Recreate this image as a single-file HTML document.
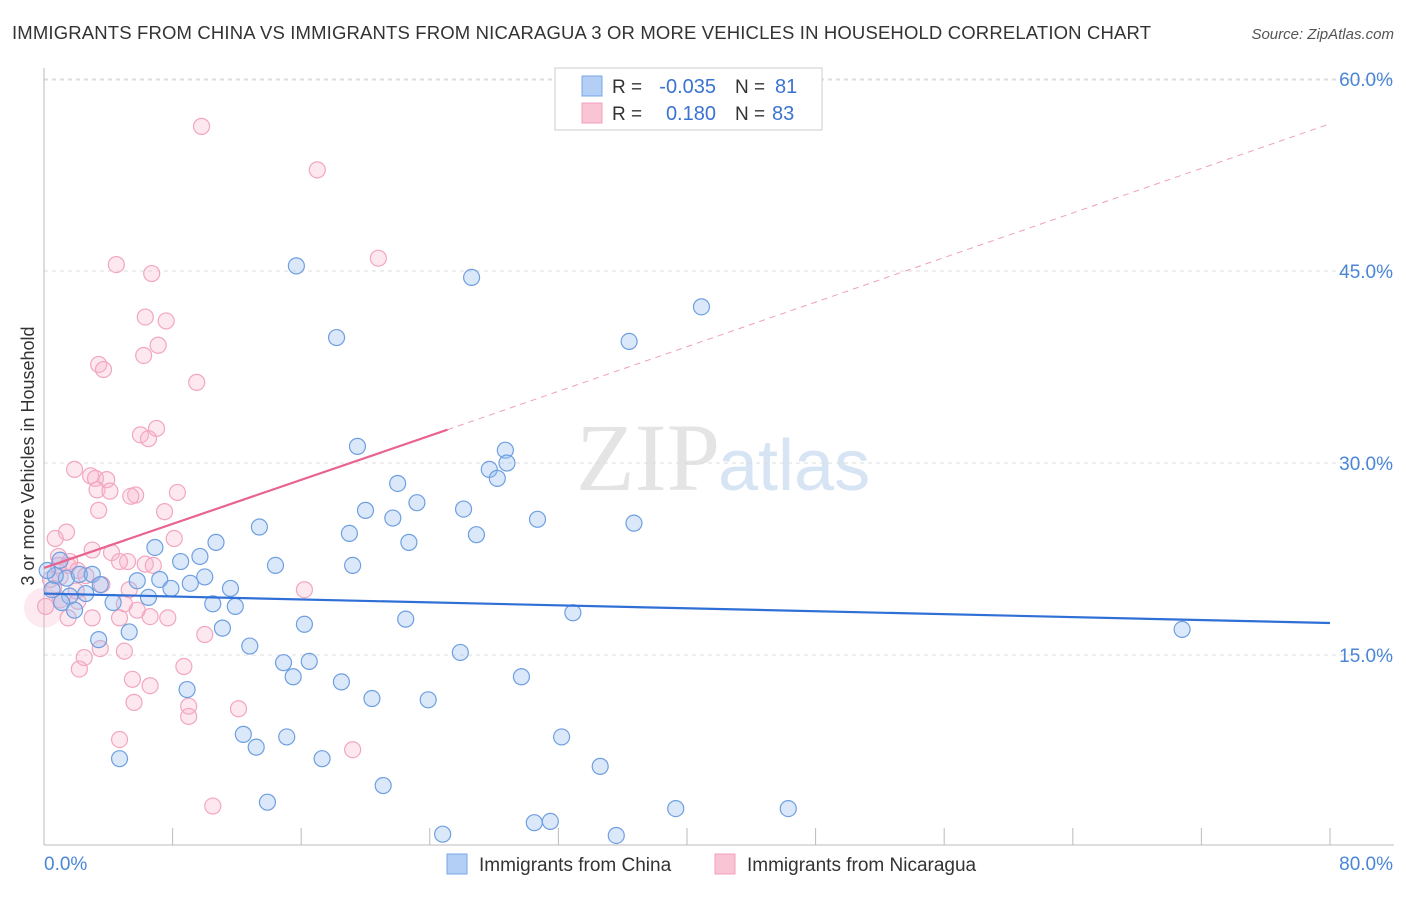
<!DOCTYPE html>
<html><head><meta charset="utf-8"><style>
body{margin:0;background:#fff;font-family:"Liberation Sans",sans-serif;}
</style></head><body>
<svg width="1406" height="892" xmlns="http://www.w3.org/2000/svg" font-family="Liberation Sans, sans-serif">
<text x="12" y="39" font-size="18.5" fill="#333" textLength="1139">IMMIGRANTS FROM CHINA VS IMMIGRANTS FROM NICARAGUA 3 OR MORE VEHICLES IN HOUSEHOLD CORRELATION CHART</text>
<text x="1394" y="39" font-size="15" fill="#555" font-style="italic" text-anchor="end">Source: ZipAtlas.com</text>
<text x="720" y="490" font-size="96" fill="#e4e4e4" font-family="Liberation Serif, serif" text-anchor="end">ZIP</text>
<text x="718" y="490" font-size="72" fill="#d6e4f4">atlas</text>
<g id="grid"></g>
<g id="axes"></g>
<g id="marks"></g>
<text transform="translate(34,456) rotate(-90)" font-size="18" fill="#333" text-anchor="middle">3 or more Vehicles in Household</text>
<g>
<rect x="555" y="68" width="267" height="62" fill="#fff" stroke="#ccc"/>
<rect x="582" y="76" width="20" height="20" fill="#b4cff5" stroke="#7aa6e6"/>
<rect x="582" y="103" width="20" height="20" fill="#f9c4d4" stroke="#f0a0bc"/>
<text x="612" y="93" font-size="19" fill="#333">R =</text>
<text x="716" y="93" font-size="20" fill="#3b73d1" text-anchor="end">-0.035</text>
<text x="735" y="93" font-size="19" fill="#333">N =</text>
<text x="775" y="93" font-size="20" fill="#3b73d1">81</text>
<text x="612" y="120" font-size="19" fill="#333">R =</text>
<text x="716" y="120" font-size="20" fill="#3b73d1" text-anchor="end">0.180</text>
<text x="735" y="120" font-size="19" fill="#333">N =</text>
<text x="772" y="120" font-size="20" fill="#3b73d1">83</text>
</g>
<g>
<rect x="447" y="854" width="20" height="20" fill="#b4cff5" stroke="#7aa6e6"/>
<text x="479" y="871" font-size="19" fill="#333">Immigrants from China</text>
<rect x="715" y="854" width="20" height="20" fill="#f9c4d4" stroke="#f0a0bc"/>
<text x="747" y="871" font-size="19" fill="#333">Immigrants from Nicaragua</text>
</g>
</svg>
<script>
const yTicks=[15,30,45,60];
const yTickLabels=["15.0%","30.0%","45.0%","60.0%"];
const xTicks=[0,8,16,24,32,40,48,56,64,72,80];
const chinaX=[15.7,26.6,40.9,18.2,36.4,19.5,28.7,27.7,28.8,28.2,22.0,23.2,20.0,21.7,26.1,30.7,36.7,13.4,19.0,26.9,22.7,6.9,10.7,9.7,8.5,14.4,19.2,7.2,10.0,5.8,9.1,11.6,7.9,6.5,4.3,10.5,11.9,22.5,16.2,32.9,70.8,11.1,5.3,3.4,12.8,25.9,14.9,16.5,15.5,29.7,18.5,8.9,20.4,23.9,12.4,15.1,13.2,32.2,17.3,4.7,34.6,21.1,13.9,39.3,46.3,30.5,31.5,24.8,35.6,1.4,0.7,2.2,3.0,1.6,1.1,1.9,0.5,2.6,3.5,0.2,1.0];
const chinaY=[45.4,44.5,42.2,39.8,39.5,31.3,31.0,29.5,30.0,28.8,28.4,26.9,26.3,25.7,26.4,25.6,25.3,25.0,24.5,24.4,23.8,23.4,23.8,22.7,22.3,22.0,22.0,20.9,21.1,20.8,20.6,20.2,20.2,19.5,19.1,19.0,18.8,17.8,17.4,18.3,17.0,17.1,16.8,16.2,15.7,15.2,14.4,14.5,13.3,13.3,12.9,12.3,11.6,11.5,8.8,8.6,7.8,8.6,6.9,6.9,6.3,4.8,3.5,3.0,3.0,1.9,2.0,1.0,0.9,21.0,21.2,21.3,21.3,19.6,19.1,18.5,20.1,19.8,20.5,21.6,22.4];
const nicX=[9.8,17.0,20.8,4.5,6.7,6.3,7.6,7.1,6.2,9.5,3.4,3.7,7.0,6.0,6.5,1.9,2.9,3.2,3.9,3.3,4.1,5.7,5.4,8.3,3.4,7.5,1.4,0.7,8.1,3.0,4.2,0.9,1.6,5.2,1.5,4.7,6.3,6.8,2.1,1.0,2.6,3.6,0.6,16.2,5.3,2.0,1.0,2.1,5.0,5.8,4.7,6.6,7.7,3.0,1.5,10.0,5.0,3.5,2.5,2.2,8.7,5.5,6.6,9.0,5.6,12.1,9.0,4.7,19.2,10.5,0.1,0.4,0.9];
const nicY=[56.3,52.9,46.0,45.5,44.8,41.4,41.1,39.2,38.4,36.3,37.7,37.3,32.7,32.2,31.9,29.5,29.0,28.8,28.7,27.9,27.8,27.5,27.4,27.7,26.3,26.2,24.6,24.1,24.1,23.2,23.0,22.7,22.3,22.3,22.0,22.3,22.1,22.0,21.6,21.1,21.2,20.5,20.2,20.1,20.1,20.0,19.3,19.2,19.0,18.5,17.9,18.0,17.9,17.9,17.9,16.6,15.3,15.5,14.8,13.9,14.1,13.1,12.6,11.0,11.3,10.8,10.2,8.4,7.6,3.2,18.8,20.9,22.0];
const chinaLine=[19.8,17.5];
const nicLine=[21.8,32.6,25.1,56.5];
const NS='http://www.w3.org/2000/svg';
const sx=v=>44+v*16.075, sy=v=>847-v*12.8;
function mk(t,a,p){const e=document.createElementNS(NS,t);for(const k in a)e.setAttribute(k,a[k]);p.appendChild(e);return e;}
const grid=document.getElementById('grid'),axes=document.getElementById('axes'),marks=document.getElementById('marks');
yTicks.forEach((v,i)=>{
 const l=mk('line',{x1:44,x2:1394,y1:sy(v),y2:sy(v),stroke:'#ddd','stroke-dasharray':'4,4'},grid);
 
 
 const t=mk('text',{x:1393,y:sy(v)+7,'font-size':19,fill:'#4a86d8','text-anchor':'end'},axes);t.textContent=yTickLabels[i];
 
 
});
const topGrid=mk('line',{x1:44,x2:1394,y1:80,y2:80,stroke:'#ddd','stroke-dasharray':'4,4'},grid);


const ya=mk('line',{x1:44,x2:44,y1:68,y2:845,stroke:'#bbb'},axes);


const xa=mk('line',{x1:44,x2:1394,y1:845,y2:845,stroke:'#bbb'},axes);


xTicks.forEach(v=>{const t=mk('line',{x1:sx(v),x2:sx(v),y1:828,y2:845,stroke:'#bbb'},axes);
 
 });
const x0=mk('text',{x:44,y:870,'font-size':19,fill:'#4a86d8'},axes);x0.textContent='0.0%';


const x1=mk('text',{x:1393,y:870,'font-size':19,fill:'#4a86d8','text-anchor':'end'},axes);x1.textContent='80.0%';


const big=mk('circle',{cx:sx(0),cy:sy(18.7),r:20,fill:'rgba(245,170,195,0.25)'},marks);


nicX.forEach((x,i)=>{const c=mk('circle',{cx:sx(x),cy:sy(nicY[i]),r:8,fill:'rgba(247,180,202,0.3)',stroke:'#f2a6c0','stroke-width':1.2},marks);
 
 });
chinaX.forEach((x,i)=>{const c=mk('circle',{cx:sx(x),cy:sy(chinaY[i]),r:8,fill:'rgba(150,190,240,0.35)',stroke:'#6e9fe0','stroke-width':1.2},marks);
 
 });
const bl=mk('line',{x1:sx(0),y1:sy(chinaLine[0]),x2:sx(80),y2:sy(chinaLine[1]),stroke:'#2f6fd6','stroke-width':2.2},marks);


const pd=mk('line',{x1:sx(nicLine[2]),y1:sy(nicLine[1]),x2:sx(80),y2:sy(nicLine[3]),stroke:'#eea0b8','stroke-width':1,'stroke-dasharray':'6,5'},marks);


const pl=mk('line',{x1:sx(0),y1:sy(nicLine[0]),x2:sx(nicLine[2]),y2:sy(nicLine[1]),stroke:'#e8648f','stroke-width':2.2},marks);


</script>
</body></html>
